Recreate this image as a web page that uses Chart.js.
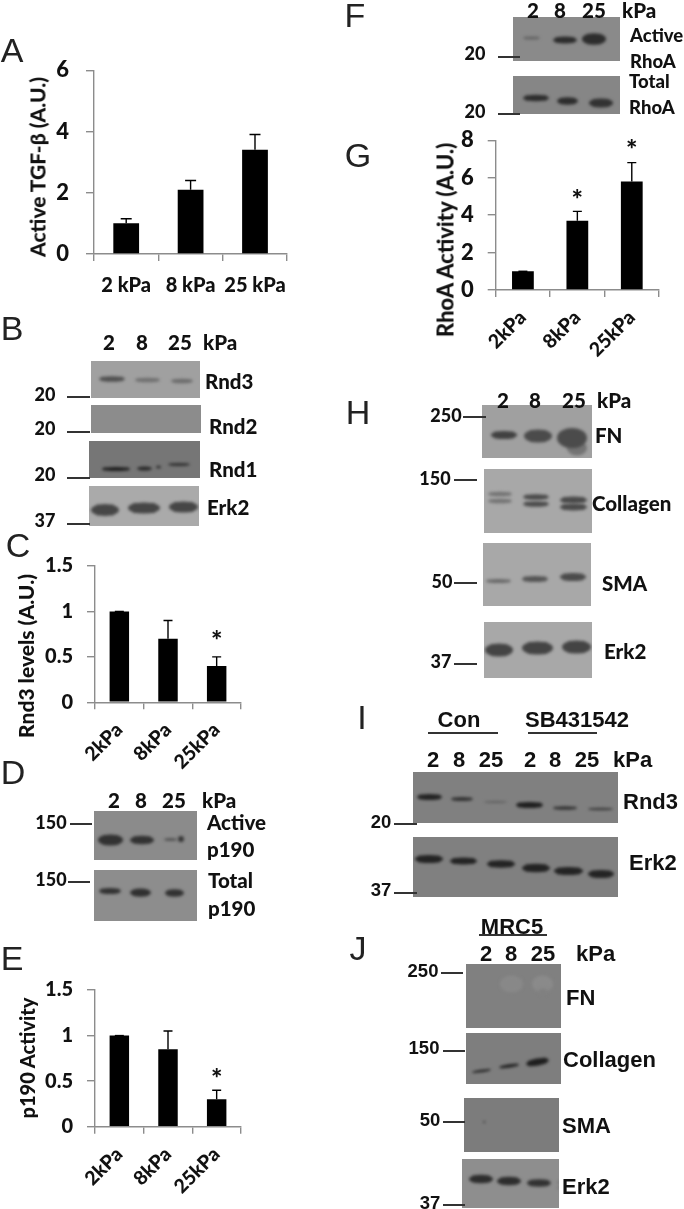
<!DOCTYPE html>
<html>
<head>
<meta charset="utf-8">
<script src="https://cdn.jsdelivr.net/npm/chart.js@4"></script>
<style>
  html, body { margin: 0; padding: 0; background: #fff; }
  #page { position: relative; width: 684px; height: 1209px; overflow: hidden; }
  canvas { position: absolute; }
  #blots { left: 0; top: 0; filter: blur(0.5px); }
  .t { position: absolute; white-space: nowrap; line-height: 1; color: #111; font: 900 20.5px Lato, sans-serif; }
  .a { font: 700 22px "Liberation Sans", sans-serif; }
  .as { font: 700 18.5px "Liberation Sans", sans-serif; }
  .p { font: 400 34px "Liberation Sans", sans-serif; color: #222; }
  .ln { position: absolute; height: 1.5px; background: #333; }
</style>
</head>
<body>
<div id="page">
  <canvas id="blots" width="684" height="1209"></canvas>
  <canvas id="chartA"></canvas>
  <canvas id="chartC"></canvas>
  <canvas id="chartE"></canvas>
  <canvas id="chartG"></canvas>
</div>
<script>
// bar data
const labelsA = ['2 kPa', '8 kPa', '25 kPa'];
const valuesA = [1, 2.1, 3.4];
const errorsA = [0.15, 0.3, 0.5];

const labelsStiff = ['2kPa', '8kPa', '25kPa'];

const valuesC = [1, 0.7, 0.4];
const errorsC = [0, 0.2, 0.1];
const starsC = [null, null, 0.72];

const valuesE = [1, 0.85, 0.3];
const errorsE = [0, 0.2, 0.1];
const starsE = [null, null, 0.56];

const valuesG = [1, 3.7, 5.8];
const errorsG = [0, 0.5, 1];
const starsG = [null, 5.0, 7.7];

// error bars and asterisks go through the y scale
const errorBars = {
  id: 'errorBars',
  afterDatasetsDraw(chart) {
    const { ctx, scales: { y } } = chart
    const ds = chart.data.datasets[0]
    chart.getDatasetMeta(0).data.forEach((bar, i) => {
      const top = y.getPixelForValue(ds.data[i] + ds.errors[i])
      ctx.save()
      ctx.strokeStyle = '#000'
      ctx.lineWidth = 1.4
      ctx.beginPath()
      ctx.moveTo(bar.x, bar.y)
      ctx.lineTo(bar.x, top)
      ctx.moveTo(bar.x - ds.cap, top)
      ctx.lineTo(bar.x + ds.cap, top)
      ctx.stroke()
      if (ds.stars && ds.stars[i] != null) {
        ctx.fillStyle = '#111'
        ctx.font = '900 27px Lato, sans-serif'
        ctx.textAlign = 'center'
        ctx.textBaseline = 'middle'
        ctx.fillText('*', bar.x, y.getPixelForValue(ds.stars[i]) + 4)
      }
      ctx.restore()
    })
  }
}

function barChart(id, cfg) {
  const el = document.getElementById(id)
  el.width = cfg.w
  el.height = 300
  el.style.left = cfg.left + 'px'
  const axisGrey = '#8c8c8c'
  const chart = new Chart(el, {
    type: 'bar',
    data: {
      labels: cfg.labels,
      datasets: [{
        data: cfg.values,
        errors: cfg.errors,
        stars: cfg.stars,
        cap: cfg.cap,
        backgroundColor: '#000',
        borderWidth: 0,
        barPercentage: 0.4,
        categoryPercentage: 1,
      }],
    },
    options: {
      responsive: false,
      maintainAspectRatio: false,
      animation: false,
      layout: { padding: { top: 0, right: cfg.padRight, left: 0, bottom: 0 } },
      plugins: { legend: { display: false }, title: { display: false }, tooltip: { enabled: false } },
      scales: {
        x: {
          afterFit(scale) { scale.height = cfg.xHeight },
          border: { color: axisGrey, width: 1.4 },
          grid: { drawOnChartArea: false, color: axisGrey, tickLength: 7, lineWidth: 1.4 },
          ticks: {
            color: '#111',
            padding: cfg.xPad,
            autoSkip: false,
            minRotation: cfg.rot,
            maxRotation: cfg.rot,
            font: { family: 'Lato', weight: '900', size: cfg.xFont },
          },
        },
        y: {
          min: 0,
          max: cfg.max,
          afterFit(scale) { scale.width = cfg.yWidth },
          border: { color: axisGrey, width: 1.4 },
          grid: { drawOnChartArea: false, color: axisGrey, tickLength: 8, lineWidth: 1.4 },
          ticks: {
            color: '#111',
            padding: cfg.yPad,
            stepSize: cfg.step,
            callback: v => String(v),
            font: { family: 'Lato', weight: '900', size: cfg.yFont },
          },
        },
      },
    },
    plugins: [errorBars],
  })
  // the layout adds half a tick label above the plot, so size the canvas after it
  const inset = chart.chartArea.top
  const h = Math.round(inset + cfg.plotH + cfg.xHeight)
  chart.resize(cfg.w, h)
  el.style.top = (cfg.bottom - h) + 'px'
  return chart
}

barChart('chartA', { left: 0, bottom: 300, w: 300, plotH: 183.3, padRight: 8, yWidth: 94, xHeight: 46,
  labels: labelsA, values: valuesA, errors: errorsA, max: 6, step: 2, cap: 5.5, rot: 0,
  xPad: 13, yPad: 17, xFont: 20, yFont: 22 })
barChart('chartC', { left: 0, bottom: 775, w: 250, plotH: 136.6, padRight: 9, yWidth: 95, xHeight: 72.7,
  labels: labelsStiff, values: valuesC, errors: errorsC, stars: starsC, max: 1.5, step: 0.5, cap: 4.5, rot: 45,
  xPad: 9, yPad: 14, xFont: 19.5, yFont: 20 })
barChart('chartE', { left: 0, bottom: 1200, w: 250, plotH: 136.7, padRight: 9, yWidth: 95, xHeight: 73.3,
  labels: labelsStiff, values: valuesE, errors: errorsE, stars: starsE, max: 1.5, step: 0.5, cap: 4.5, rot: 45,
  xPad: 9, yPad: 14, xFont: 19.5, yFont: 20 })
barChart('chartG', { left: 400, bottom: 370, w: 270, plotH: 149.3, padRight: 11, yWidth: 95.7, xHeight: 80,
  labels: labelsStiff, values: valuesG, errors: errorsG, stars: starsG, max: 8, step: 2, cap: 4.5, rot: 45,
  xPad: 9, yPad: 14, xFont: 19.5, yFont: 22 })

// gel panels: [x, y, w, h, grey, bands], band = [x1, x2, yMid, thickness, grey, slant]
const gels = [
  // B
  [91, 361, 109, 37, 160, [[99, 125, 379, 4.5, 80], [135, 160, 380, 3.5, 112], [171, 193, 381, 3.5, 108]]],
  [91, 405, 110, 28, 140, []],
  [89, 441, 111, 37, 118, [[102, 130, 469, 3, 30], [137, 152, 468.5, 3, 40], [156, 161, 467, 2, 50], [168, 190, 464.5, 2, 50]]],
  [89, 486, 110, 40, 170, [[91, 119, 510, 11, 70], [128, 160, 508, 10, 70], [169, 198, 507, 10, 70]]],
  // D
  [94, 811, 103, 49, 139, [[98, 123, 840, 10, 50], [130, 154, 840, 7.5, 50], [164, 177, 839.5, 1.5, 75], [178, 184, 839, 5, 55]]],
  [94, 870, 103, 51, 141, [[99, 121, 891, 5, 50], [130, 151, 892.7, 7, 48], [165, 184, 893, 6.5, 50]]],
  // F
  [513, 17, 107, 44, 138, [[523, 540, 38, 2, 100], [553, 577, 40, 6, 45], [582, 606, 39, 10.5, 45]]],
  [513, 76, 107, 38, 134, [[523, 549, 98, 5.5, 45], [557, 578, 101, 6.5, 45], [589, 613, 103, 8, 50]]],
  // H
  [482, 405, 110, 53, 160, [[567, 587, 448, 14, 115], [491, 517, 435, 7, 65], [524, 552, 436, 12, 75], [557, 587, 438, 19, 75]]],
  [484, 469, 108, 64, 168, [[488, 512, 494, 3.5, 115], [488, 512, 501, 3.5, 115], [523, 549, 497, 4.5, 75], [523, 549, 504, 4.5, 75], [560, 587, 500, 6, 75], [560, 587, 507, 6, 75]]],
  [483, 543, 108, 63, 168, [[486, 511, 581, 3, 105], [522, 548, 579, 5, 85], [560, 586, 577, 7, 75]]],
  [484, 622, 108, 56, 168, [[485, 513, 650, 12, 68], [522, 553, 648, 12, 68], [562, 591, 647, 12, 68]]],
  // I
  [413, 772, 205, 51, 128, [[417, 442, 797, 5, 35], [451, 473, 799, 3, 50], [484, 507, 802, 1, 95], [516, 543, 805, 5, 30], [553, 577, 808, 2.5, 50], [588, 613, 809, 1.5, 60]]],
  [413, 837, 205, 60, 128, [[415, 443, 859, 7, 35], [450, 477, 861, 6, 35], [487, 515, 864, 6.5, 35], [522, 550, 868, 7.5, 35], [554, 583, 871, 7, 35], [588, 614, 874, 7, 35]]],
  // J
  [466, 964, 95, 64, 128, [[500, 523, 984, 16, 136], [532, 553, 984, 16, 138], [538, 548, 992, 6, 128]]],
  [466, 1033, 95, 51, 126, [[472, 491, 1071, 1.5, 35, -1.5], [499, 519, 1066, 2.5, 35, -1.5], [526, 549, 1062, 6, 30, -2]]],
  [464, 1098, 95, 54, 124, [[483.5, 485, 1122, 1.5, 50]]],
  [462, 1159, 97, 49, 142, [[469, 493, 1179, 7.5, 45], [497, 521, 1181, 7.5, 45], [527, 551, 1183, 6.5, 50], [557, 560, 1185, 6, 55]]],
]

const g = document.getElementById('blots').getContext('2d')
gels.forEach(([x, y, w, h, grey, bands]) => {
  g.save()
  g.beginPath()
  g.rect(x, y, w, h)
  g.fillStyle = `rgb(${grey},${grey},${grey})`
  g.fill()
  g.clip()
  bands.forEach(([x1, x2, ym, th, c, slant]) => {
    g.save()
    g.filter = 'blur(1.4px)'
    g.fillStyle = `rgb(${c},${c},${c})`
    g.translate((x1 + x2) / 2, ym)
    if (slant) g.rotate(slant * 5 * Math.PI / 180)
    g.beginPath()
    g.ellipse(0, 0, (x2 - x1) / 2, th / 2 + 0.6, 0, 0, Math.PI * 2)
    g.rect(-(x2 - x1) / 2 + th / 2, -th / 2, x2 - x1 - th, th)
    g.fill()
    g.restore()
  })
  g.restore()
})

// text and marker dashes
const page = document.getElementById('page')
function txt(x, y, s, cls = '', anchor = 'm', size = 0) {
  const d = document.createElement('div')
  d.className = 't ' + cls
  d.textContent = s
  d.style.left = x + 'px'
  d.style.top = y + 'px'
  if (size) d.style.fontSize = size + 'px'
  const tx = anchor === 'm' ? '-50%' : '0'
  d.style.transform = `translate(${tx},-50%)`
  page.appendChild(d)
  return d
}
function vtxt(x, y, s, size) {
  const d = txt(x, y, s, '', 'm', size)
  d.style.transform = 'translate(-50%,-50%) rotate(-90deg)'
}
function dash(x1, x2, y, c) {
  const d = document.createElement('div')
  d.className = 'ln'
  d.style.left = x1 + 'px'
  d.style.width = (x2 - x1) + 'px'
  d.style.top = (y - 0.75) + 'px'
  if (c) d.style.background = c
  page.appendChild(d)
}

// panel letters
const letters = [['A', 12, 50], ['B', 12, 328], ['C', 18, 545], ['D', 13, 772], ['E', 12, 958],
  ['F', 355, 15], ['G', 358, 155], ['H', 358, 412], ['I', 362, 717], ['J', 358, 948]]
letters.forEach(([s, x, y]) => txt(x, y, s, 'p'))

// axis titles
vtxt(37, 166.5, 'Active TGF-β (A.U.)', 21)
vtxt(25, 656, 'Rnd3 levels (A.U.)', 21)
vtxt(27, 1058, 'p190 Activity', 20)
vtxt(445, 240, 'RhoA Activity (A.U.)', 22)

// B
txt(109, 342, '2'); txt(142, 342, '8'); txt(180, 342, '25'); txt(203, 342, 'kPa', '', 'l')
txt(205, 381, 'Rnd3', '', 'l', 20.5); txt(209, 426, 'Rnd2', '', 'l', 20.5); txt(209, 469, 'Rnd1', '', 'l', 20.5); txt(207, 507, 'Erk2', '', 'l', 20.5)
dash(67, 90, 397); dash(67, 90, 432); dash(67, 90, 478); dash(67, 90, 524)
txt(45, 394, '20', '', 'm', 18); txt(45, 428, '20', '', 'm', 18); txt(45, 474, '20', '', 'm', 18); txt(45, 520, '37', '', 'm', 18)

// D
txt(114, 800, '2'); txt(141, 800, '8'); txt(174, 800, '25'); txt(202, 800, 'kPa', '', 'l')
txt(207, 822, 'Active', '', 'l', 20.5); txt(207, 849, 'p190', '', 'l', 20.5); txt(208, 880, 'Total', '', 'l', 20.5); txt(208, 908, 'p190', '', 'l', 20.5)
dash(70, 92, 824); dash(68, 90, 882)
txt(51, 822, '150', '', 'm', 18); txt(51, 879, '150', '', 'm', 18)

// F
txt(533, 10, '2'); txt(560, 10, '8'); txt(594, 10, '25'); txt(622, 10, 'kPa', '', 'l')
txt(630, 35, 'Active', '', 'l', 18.5); txt(630, 61, 'RhoA', '', 'l', 18.5); txt(629, 81, 'Total', '', 'l', 18.5); txt(629, 107, 'RhoA', '', 'l', 18.5)
dash(498, 520, 57); dash(498, 520, 114)
txt(475, 53, '20', '', 'm', 18); txt(475, 111, '20', '', 'm', 18)

// H
txt(503, 400, '2'); txt(535, 400, '8'); txt(574, 400, '25'); txt(597, 400, 'kPa', '', 'l')
txt(595, 435, 'FN', '', 'l', 20.5); txt(592, 503, 'Collagen', '', 'l', 20.5); txt(602, 583, 'SMA', '', 'l', 20.5); txt(604, 651, 'Erk2', '', 'l', 20.5)
dash(463, 486, 417); dash(454, 477, 480); dash(454, 477, 583); dash(454, 477, 664)
txt(446, 415, '250', '', 'm', 18); txt(435, 478, '150', '', 'm', 18); txt(442, 581, '50', '', 'm', 18); txt(441, 661, '37', '', 'm', 18)

// I
txt(459, 720, 'Con', 'a'); txt(525, 720, 'SB431542', 'a', 'l')
dash(428, 498, 733); dash(528, 597, 733)
;[[433, '2'], [459, '8'], [491, '25'], [530, '2'], [555, '8'], [587, '25']].forEach(([x, s]) => txt(x, 760, s, 'a'))
txt(613, 760, 'kPa', 'a', 'l')
txt(623, 802, 'Rnd3', 'a', 'l'); txt(629, 863, 'Erk2', 'a', 'l')
dash(394, 417, 824); dash(394, 417, 893)
txt(381, 822, '20', 'as'); txt(381, 890, '37', 'as')

// J
txt(512, 927, 'MRC5', 'a')
dash(479, 547, 935)
;[[486, '2'], [511, '8'], [543, '25']].forEach(([x, s]) => txt(x, 954, s, 'a'))
txt(576, 954, 'kPa', 'a', 'l')
txt(566, 998, 'FN', 'a', 'l'); txt(563, 1060, 'Collagen', 'a', 'l'); txt(562, 1126, 'SMA', 'a', 'l'); txt(562, 1187, 'Erk2', 'a', 'l')
dash(441, 463, 973); dash(443, 465, 1051); dash(443, 465, 1122); dash(443, 465, 1205)
txt(423, 971, '250', 'as'); txt(424, 1048, '150', 'as'); txt(430, 1120, '50', 'as'); txt(430, 1203, '37', 'as')
</script>
</body>
</html>
